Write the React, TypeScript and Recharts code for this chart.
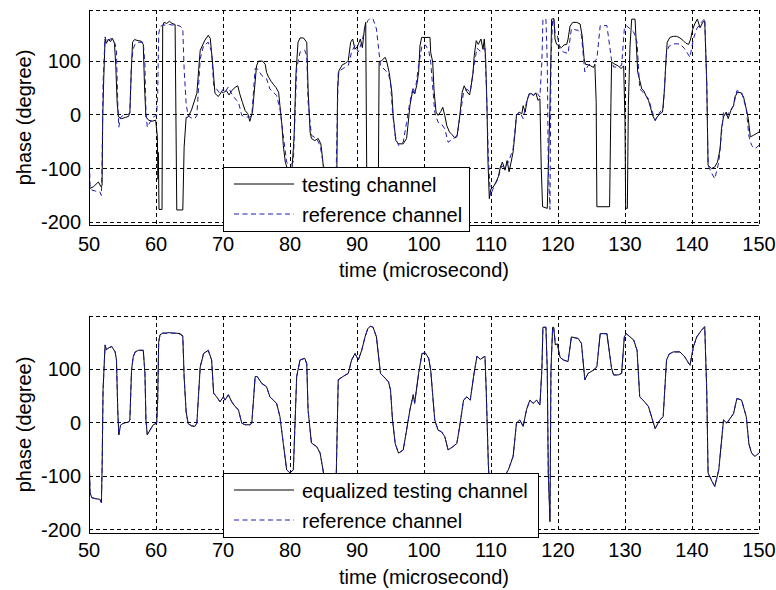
import React from 'react';
import { LineChart, Line, XAxis, YAxis, CartesianGrid, Legend, Label } from 'recharts';

const FONT = '"Liberation Sans", Arial, Helvetica, sans-serif';

const xTicks = [50, 60, 70, 80, 90, 100, 110, 120, 130, 140, 150];
const yTicks = [-200, -100, 0, 100];

// time (microsecond), phase (degree) — testing channel (top plot, black)
const testingChannel: [number, number][] = [
  [50.0, -44], [50.1, -137], [50.65, -134], [51.4, -125], [51.8, -134], [51.95, -131], [52.05, -1], [52.2, 67],
  [52.4, 141], [52.6, 133], [52.9, 141], [53.2, 136], [53.5, 142], [53.8, 133], [54.0, 91], [54.2, 23],
  [54.4, -4], [54.9, -7], [55.4, -5], [55.9, -3], [56.1, 4], [56.3, 79], [56.5, 135], [56.8, 140],
  [57.3, 138], [57.8, 137], [58.1, 131], [58.3, 48], [58.5, -4], [58.9, -10], [59.4, -12], [59.95, -10],
  [60.2, -40], [60.3, -120], [60.35, -70], [60.45, -176], [60.9, -176], [61.0, 165], [61.2, 172], [61.6, 170],
  [62.0, 174], [62.4, 170], [62.85, 168], [63.1, -177], [64.0, -177], [64.2, -60], [64.5, -5], [64.8, -4],
  [65.3, 9], [66.1, 40], [66.4, 89], [66.6, 120], [67.3, 139], [67.8, 148], [68.1, 142], [68.5, 89],
  [68.8, 40], [69.3, 34], [69.8, 43], [70.05, 41], [70.5, 45], [70.9, 37], [71.3, 45], [71.8, 51],
  [72.2, 54], [72.5, 39], [72.9, 23], [73.3, 8], [73.7, 2], [74.0, -12], [74.4, 5], [74.7, 48],
  [75.0, 91], [75.3, 100], [75.9, 100], [76.3, 94], [76.5, 79], [76.8, 70], [77.2, 62], [77.5, 57],
  [77.9, 51], [78.3, 42], [78.5, 17], [78.8, -20], [79.0, -57], [79.3, -88], [79.6, -100], [80.0, -106],
  [80.3, -100], [80.6, -44], [80.9, 79], [81.2, 135], [81.5, 143], [82.0, 143], [82.5, 135], [82.7, 48],
  [83.0, -32], [83.2, -44], [83.7, -48], [84.2, -44], [84.6, -54], [84.8, -75], [85.0, -100], [85.5, -140],
  [86.5, -135], [87.0, -100], [87.1, 48], [87.3, 82], [87.8, 93], [88.3, 96], [88.7, 101], [89.05, 135],
  [89.35, 141], [89.7, 122], [90.1, 128], [90.5, 141], [90.8, 125], [91.1, 159], [91.3, 172], [91.45, -100],
  [91.6, -180], [93.0, -180], [93.2, -100], [93.3, 98], [93.7, 101], [94.2, 107], [94.4, 101], [94.8, 79],
  [95.2, 42], [95.4, -1], [95.8, -48], [96.2, -54], [96.9, -54], [97.4, -44], [97.6, -20], [97.9, 17],
  [98.3, 45], [98.6, 39], [98.9, 54], [99.2, 79], [99.4, 128], [99.65, 144], [100.9, 144], [101.0, 116],
  [101.3, 98], [101.5, 45], [101.8, 5], [102.1, -1], [102.5, 6], [102.8, 14], [103.1, -1], [103.4, -20],
  [103.8, -32], [104.2, -37], [104.6, -43], [104.9, -41], [105.1, -26], [105.4, 5], [105.7, 42], [106.0, 54],
  [106.4, 43], [106.8, 37], [107.0, 51], [107.3, 76], [107.5, 110], [107.8, 138], [108.1, 131], [108.5, 141],
  [108.8, 122], [109.0, 141], [109.2, 104], [109.4, 17], [109.55, -88], [109.75, -156], [110.0, -137], [110.35, -134],
  [110.75, -125], [111.1, -115], [111.4, -97], [111.7, -88], [112.1, -103], [112.4, -85], [112.7, -106], [113.0, -88],
  [113.3, -69], [113.6, -32], [113.8, -1], [114.2, 5], [114.6, 2], [114.8, 17], [115.1, 5], [115.4, 27],
  [115.7, 39], [116.1, 39], [116.4, 36], [116.7, 41], [117.0, 27], [117.3, 30], [117.5, -100], [117.7, -171],
  [118.4, -174], [118.55, -100], [118.8, 17], [119.05, 178], [119.4, 179], [119.55, 141], [119.8, 131], [120.2, 128],
  [120.5, 125], [120.9, 130], [121.3, 131], [121.5, 141], [121.8, 165], [122.2, 172], [122.8, 172], [123.3, 169],
  [123.6, 147], [123.9, 104], [124.1, 94], [124.5, 93], [124.9, 91], [125.3, 88], [125.5, 94], [125.7, 23],
  [125.8, -171], [127.7, -171], [127.9, 23], [128.0, 98], [128.5, 94], [129.0, 91], [129.4, 86], [129.8, 91],
  [130.0, -14], [130.1, -174], [130.35, -174], [130.5, 17], [130.75, 128], [131.0, 178], [131.5, 178], [131.7, 128],
  [131.9, 79], [132.2, 64], [132.5, 48], [132.8, 45], [133.1, 36], [133.5, 27], [133.8, 14], [134.1, -1],
  [134.5, -10], [134.8, -4], [135.2, 2], [135.6, 5], [135.9, 48], [136.1, 98], [136.3, 135], [136.7, 144],
  [137.2, 146], [137.7, 146], [138.2, 143], [138.7, 138], [139.1, 133], [139.5, 131], [139.8, 141], [140.1, 159],
  [140.4, 169], [140.8, 178], [141.2, 162], [141.6, 172], [141.9, 175], [142.2, 60], [142.4, -94], [142.9, -100],
  [143.4, -97], [143.8, -88], [144.2, -63], [144.4, -26], [144.7, -4], [145.1, 5], [145.4, -7], [145.8, 8],
  [146.2, 17], [146.4, 33], [146.8, 42], [147.3, 41], [147.7, 33], [148.1, 11], [148.4, -7], [148.7, -41],
  [149.2, -38], [150.0, -32],
];

// reference channel (both plots, blue dashed)
const referenceChannel: [number, number][] = [
  [50.0, -45], [50.15, -130], [50.4, -140], [51.0, -142], [51.6, -143], [51.85, -150], [51.95, -90], [52.1, 60],
  [52.4, 145], [52.6, 136], [53.0, 140], [53.4, 142], [53.9, 132], [54.1, 117], [54.3, 20], [54.45, -23],
  [54.7, -5], [55.0, -2], [55.5, 0], [55.9, 1], [56.1, 5], [56.35, 98], [56.6, 123], [56.9, 132],
  [57.4, 135], [58.1, 135], [58.35, 92], [58.5, 5], [58.7, -23], [59.1, -14], [59.6, -4], [60.1, -1],
  [60.25, 40], [60.4, 150], [60.6, 164], [61.0, 167], [61.5, 167], [62.0, 168], [62.5, 167], [63.0, 167],
  [63.6, 165], [64.0, 160], [64.2, 85], [64.5, 20], [64.8, -2], [65.3, -6], [65.8, -7], [66.1, -1],
  [66.6, 104], [67.1, 129], [67.8, 135], [68.3, 117], [68.6, 55], [69.05, 48], [69.55, 39], [70.05, 48],
  [70.3, 42], [70.8, 52], [71.3, 39], [71.8, 30], [72.3, 24], [72.8, -1], [73.3, -4], [74.0, -4],
  [74.3, -1], [74.8, 86], [75.1, 86], [75.8, 73], [76.5, 67], [77.0, 48], [77.5, 42], [78.0, 36],
  [78.5, 11], [79.0, -39], [79.5, -88], [80.0, -94], [80.5, -88], [81.0, 86], [81.5, 117], [82.2, 120],
  [82.5, 110], [82.7, 23], [83.2, -38], [84.0, -45], [84.5, -57], [85.0, -94], [85.5, -140], [86.5, -138],
  [86.9, -100], [87.2, 80], [87.9, 86], [88.7, 92], [89.2, 117], [89.7, 129], [90.2, 117], [90.7, 135],
  [91.2, 160], [91.6, 175], [92.0, 180], [92.4, 178], [92.9, 160], [93.5, 92], [94.2, 83], [94.7, 76],
  [95.0, 61], [95.3, 5], [95.7, -39], [96.2, -57], [96.9, -51], [97.4, -14], [97.9, 24], [98.4, 52],
  [98.6, 36], [99.2, 92], [99.7, 129], [100.2, 130], [100.7, 120], [101.0, 98], [101.6, 5], [102.1, -14],
  [102.6, -17], [103.1, -26], [103.6, -51], [104.3, -45], [104.9, -39], [105.4, -1], [105.9, 42], [106.4, 48],
  [106.9, 42], [107.4, 86], [107.9, 124], [108.4, 118], [109.1, 124], [109.3, 55], [109.6, -76], [109.9, -150],
  [110.4, -135], [111.0, -120], [111.6, -95], [112.1, -98], [112.6, -88], [113.3, -63], [113.8, -1], [114.3, 5],
  [114.8, -7], [115.3, 24], [115.8, 42], [116.3, 36], [116.8, 42], [117.3, 33], [117.6, 101], [117.75, 178],
  [118.2, 178], [118.4, 98], [118.55, -95], [118.8, -176], [118.95, 98], [119.2, 178], [119.35, 178], [119.6, 150],
  [119.9, 147], [120.3, 122], [120.8, 117], [121.5, 114], [122.0, 160], [123.0, 157], [123.5, 148], [124.0, 80],
  [124.5, 92], [125.3, 98], [125.8, 104], [126.3, 166], [127.3, 166], [128.0, 101], [128.3, 89], [129.0, 89],
  [129.5, 92], [129.9, 160], [130.2, 166], [131.3, 154], [131.8, 135], [132.2, 48], [132.7, 42], [133.5, 30],
  [134.1, 5], [134.5, -11], [135.2, 5], [135.7, 11], [136.2, 117], [136.6, 128], [137.2, 132], [138.2, 132],
  [138.9, 123], [139.7, 107], [140.2, 141], [140.7, 160], [141.4, 172], [141.9, 179], [142.2, 60], [142.4, -94],
  [143.0, -110], [143.4, -119], [144.0, -88], [144.7, 5], [145.2, -1], [146.2, 17], [146.7, 45], [147.4, 42],
  [148.1, 11], [148.5, -40], [148.9, -57], [149.4, -63], [150.0, -57],
];

// equalized testing channel (bottom plot, black)
const equalizedChannel: [number, number][] = [
  [50.0, -45], [50.15, -130], [50.4, -140], [51.0, -142], [51.6, -143], [51.85, -148], [51.95, -90], [52.1, 62],
  [52.4, 145], [52.6, 136], [53.0, 140], [53.4, 142], [53.9, 132], [54.1, 117], [54.3, 20], [54.45, -23],
  [54.7, -5], [55.0, -2], [55.5, 0], [55.9, 1], [56.1, 5], [56.35, 98], [56.6, 123], [56.9, 132],
  [57.4, 135], [58.1, 135], [58.35, 92], [58.5, 5], [58.7, -23], [59.1, -14], [59.6, -4], [60.1, -1],
  [60.25, 40], [60.4, 150], [60.6, 164], [61.0, 167], [61.5, 167], [62.0, 168], [62.5, 167], [63.0, 167],
  [63.6, 166], [64.0, 162], [64.2, 85], [64.5, 20], [64.8, -2], [65.3, -6], [65.8, -7], [66.1, -1],
  [66.6, 104], [67.1, 129], [67.8, 135], [68.3, 117], [68.6, 55], [69.05, 48], [69.55, 39], [70.05, 48],
  [70.3, 42], [70.8, 52], [71.3, 39], [71.8, 30], [72.3, 24], [72.8, -1], [73.3, -4], [74.0, -4],
  [74.3, -1], [74.8, 86], [75.1, 86], [75.8, 73], [76.5, 67], [77.0, 48], [77.5, 42], [78.0, 36],
  [78.5, 11], [79.0, -39], [79.5, -88], [80.0, -94], [80.5, -88], [81.0, 86], [81.5, 117], [82.2, 120],
  [82.5, 110], [82.7, 23], [83.2, -38], [84.0, -45], [84.5, -57], [85.0, -94], [85.5, -140], [86.5, -138],
  [86.9, -100], [87.2, 80], [87.9, 86], [88.7, 92], [89.2, 117], [89.7, 129], [90.2, 117], [90.7, 135],
  [91.2, 160], [91.6, 175], [92.0, 180], [92.4, 178], [92.9, 160], [93.5, 92], [94.2, 83], [94.7, 76],
  [95.0, 61], [95.3, 5], [95.7, -39], [96.2, -57], [96.9, -51], [97.4, -14], [97.9, 24], [98.4, 52],
  [98.6, 36], [99.2, 92], [99.7, 129], [100.2, 130], [100.7, 120], [101.0, 98], [101.6, 5], [102.1, -14],
  [102.6, -17], [103.1, -26], [103.6, -51], [104.3, -45], [104.9, -39], [105.4, -1], [105.9, 42], [106.4, 48],
  [106.9, 42], [107.4, 86], [107.9, 124], [108.4, 118], [109.1, 124], [109.3, 55], [109.6, -76], [109.9, -150],
  [110.4, -135], [111.0, -120], [111.6, -95], [112.1, -98], [112.6, -88], [113.3, -63], [113.8, -1], [114.3, 5],
  [114.8, -7], [115.3, 24], [115.8, 42], [116.3, 36], [116.8, 42], [117.3, 33], [117.6, 101], [117.75, 178],
  [118.2, 178], [118.4, 98], [118.55, -95], [118.8, -185], [118.95, 98], [119.2, 178], [119.35, 178], [119.6, 145],
  [119.9, 147], [120.3, 122], [120.8, 117], [121.5, 114], [122.0, 160], [123.0, 157], [123.5, 148], [124.0, 80],
  [124.5, 92], [125.3, 98], [125.8, 104], [126.3, 166], [127.3, 166], [128.0, 101], [128.3, 89], [129.0, 89],
  [129.5, 92], [129.9, 160], [130.2, 166], [131.3, 154], [131.8, 135], [132.2, 48], [132.7, 42], [133.5, 30],
  [134.1, 5], [134.5, -11], [135.2, 5], [135.7, 11], [136.2, 117], [136.6, 128], [137.2, 132], [138.2, 132],
  [138.9, 123], [139.7, 107], [140.2, 141], [140.7, 160], [141.4, 172], [141.9, 179], [142.2, 60], [142.4, -94],
  [143.0, -110], [143.4, -119], [144.0, -88], [144.7, 5], [145.2, -1], [146.2, 17], [146.7, 45], [147.4, 42],
  [148.1, 11], [148.5, -40], [148.9, -57], [149.4, -63], [150.0, -57],
];

const topLegendLabels = ['testing channel', 'reference channel'];
const bottomLegendLabels = ['equalized testing channel', 'reference channel'];

const toPoints = (arr: [number, number][]) => arr.map(([t, v]) => ({ t, v }));

const BLUE = '#1c1cb0';
const tickStyle = { fontSize: 20, fill: '#000', fontFamily: FONT };

function LegendBox({ labels, width, height }: { labels: string[]; width: number; height: number }) {
  const rows = [17, 47];
  return (
    <svg width={width} height={height} style={{ display: 'block' }}>
      <rect x={0.5} y={0.5} width={width - 1} height={height - 1} fill="#fff" stroke="#000" strokeWidth={1} shapeRendering="crispEdges" />
      <line x1={11} x2={71} y1={rows[0]} y2={rows[0]} stroke="#000" strokeWidth={1} />
      <line x1={11} x2={71} y1={rows[1]} y2={rows[1]} stroke={BLUE} strokeWidth={1} strokeDasharray="5 3.5" />
      <text x={79} y={rows[0] + 7.5} fontSize={20} fontFamily={FONT} fill="#000">{labels[0]}</text>
      <text x={79} y={rows[1] + 7.5} fontSize={20} fontFamily={FONT} fill="#000">{labels[1]}</text>
    </svg>
  );
}

type PanelProps = {
  solid: [number, number][];
  dashed: [number, number][];
  solidName: string;
  dashedName: string;
  legendLabels: string[];
  yDomain: [number, number];
  marginTop: number;
  marginBottom: number;
  tickMargin: number;
  labelOffset: number;
  legendBox: { left: number; top: number; width: number; height: number };
};

function Panel(p: PanelProps) {
  return (
    <LineChart
      width={776}
      height={290}
      margin={{ top: p.marginTop, right: 17, bottom: p.marginBottom, left: 0 }}
      style={{ fontFamily: FONT }}
    >
      <XAxis xAxisId="tb" orientation="bottom" type="number" dataKey="t" domain={[50, 150]} ticks={xTicks}
        allowDataOverflow height={0} mirror tick={false} tickSize={5} axisLine={false} tickLine={{ stroke: '#000' }} />
      <XAxis type="number" dataKey="t" domain={[50, 150]} ticks={xTicks} allowDataOverflow height={30}
        tickLine={false} tickSize={0} tickMargin={p.tickMargin} axisLine={{ stroke: '#000', shapeRendering: 'crispEdges' }} tick={tickStyle}>
        <Label value="time (microsecond)" position="bottom" offset={p.labelOffset}
          style={{ fontSize: 20, fill: '#000', fontFamily: FONT }} />
      </XAxis>
      <XAxis xAxisId="tt" orientation="top" type="number" dataKey="t" domain={[50, 150]} ticks={xTicks}
        allowDataOverflow height={0} mirror tick={false} tickSize={5} axisLine={{ stroke: '#000', shapeRendering: 'crispEdges' }} tickLine={{ stroke: '#000' }} />
      <YAxis yAxisId="yl" type="number" domain={p.yDomain} ticks={yTicks} allowDataOverflow width={0}
        mirror tick={false} tickSize={5} axisLine={false} tickLine={{ stroke: '#000' }} />
      <YAxis type="number" domain={p.yDomain} ticks={yTicks} allowDataOverflow width={89}
        tickLine={false} tickSize={0} tickMargin={8} axisLine={{ stroke: '#000', shapeRendering: 'crispEdges' }} tick={tickStyle}>
        <Label value="phase (degree)" angle={-90} position="insideLeft" offset={24}
          style={{ fontSize: 20, fill: '#000', fontFamily: FONT, textAnchor: 'middle' }} />
      </YAxis>
      <YAxis yAxisId="yr" orientation="right" type="number" domain={p.yDomain} ticks={yTicks} allowDataOverflow
        width={0} mirror tick={false} tickSize={5} axisLine={{ stroke: '#000', shapeRendering: 'crispEdges' }} tickLine={{ stroke: '#000' }} />
      <CartesianGrid stroke="#000" strokeDasharray="4 3" strokeWidth={1} shapeRendering="crispEdges" />
      <Line data={toPoints(p.solid)} dataKey="v" name={p.solidName} type="linear" stroke="#000"
        strokeWidth={1} dot={false} activeDot={false} isAnimationActive={false} />
      <Line data={toPoints(p.dashed)} dataKey="v" name={p.dashedName} type="linear" stroke={BLUE}
        strokeWidth={1} strokeDasharray="5 3.5" dot={false} activeDot={false} isAnimationActive={false} />
      <Legend layout="vertical" align="center" verticalAlign="middle"
        wrapperStyle={{ left: p.legendBox.left, top: p.legendBox.top, width: p.legendBox.width, height: p.legendBox.height, margin: 0, padding: 0 }}
        content={() => <LegendBox labels={p.legendLabels} width={p.legendBox.width} height={p.legendBox.height} />} />
    </LineChart>
  );
}

export default function App() {
  return (
    <div style={{ position: 'absolute', left: 0, top: 0, width: 776, height: 590, background: '#fff', fontFamily: FONT }}>
      <div style={{ position: 'absolute', left: 0, top: 0 }}>
        <Panel
          solid={testingChannel}
          dashed={referenceChannel}
          solidName={topLegendLabels[0]}
          dashedName={topLegendLabels[1]}
          legendLabels={topLegendLabels}
          yDomain={[-205, 195]}
          marginTop={10}
          marginBottom={35}
          tickMargin={12}
          labelOffset={8}
          legendBox={{ left: 223, top: 167, width: 247, height: 65 }}
        />
      </div>
      <div style={{ position: 'absolute', left: 0, top: 300 }}>
        <Panel
          solid={equalizedChannel}
          dashed={referenceChannel}
          solidName={bottomLegendLabels[0]}
          dashedName={bottomLegendLabels[1]}
          legendLabels={bottomLegendLabels}
          yDomain={[-206, 199]}
          marginTop={16}
          marginBottom={27}
          tickMargin={10}
          labelOffset={7}
          legendBox={{ left: 223, top: 173, width: 316, height: 65 }}
        />
      </div>
    </div>
  );
}
